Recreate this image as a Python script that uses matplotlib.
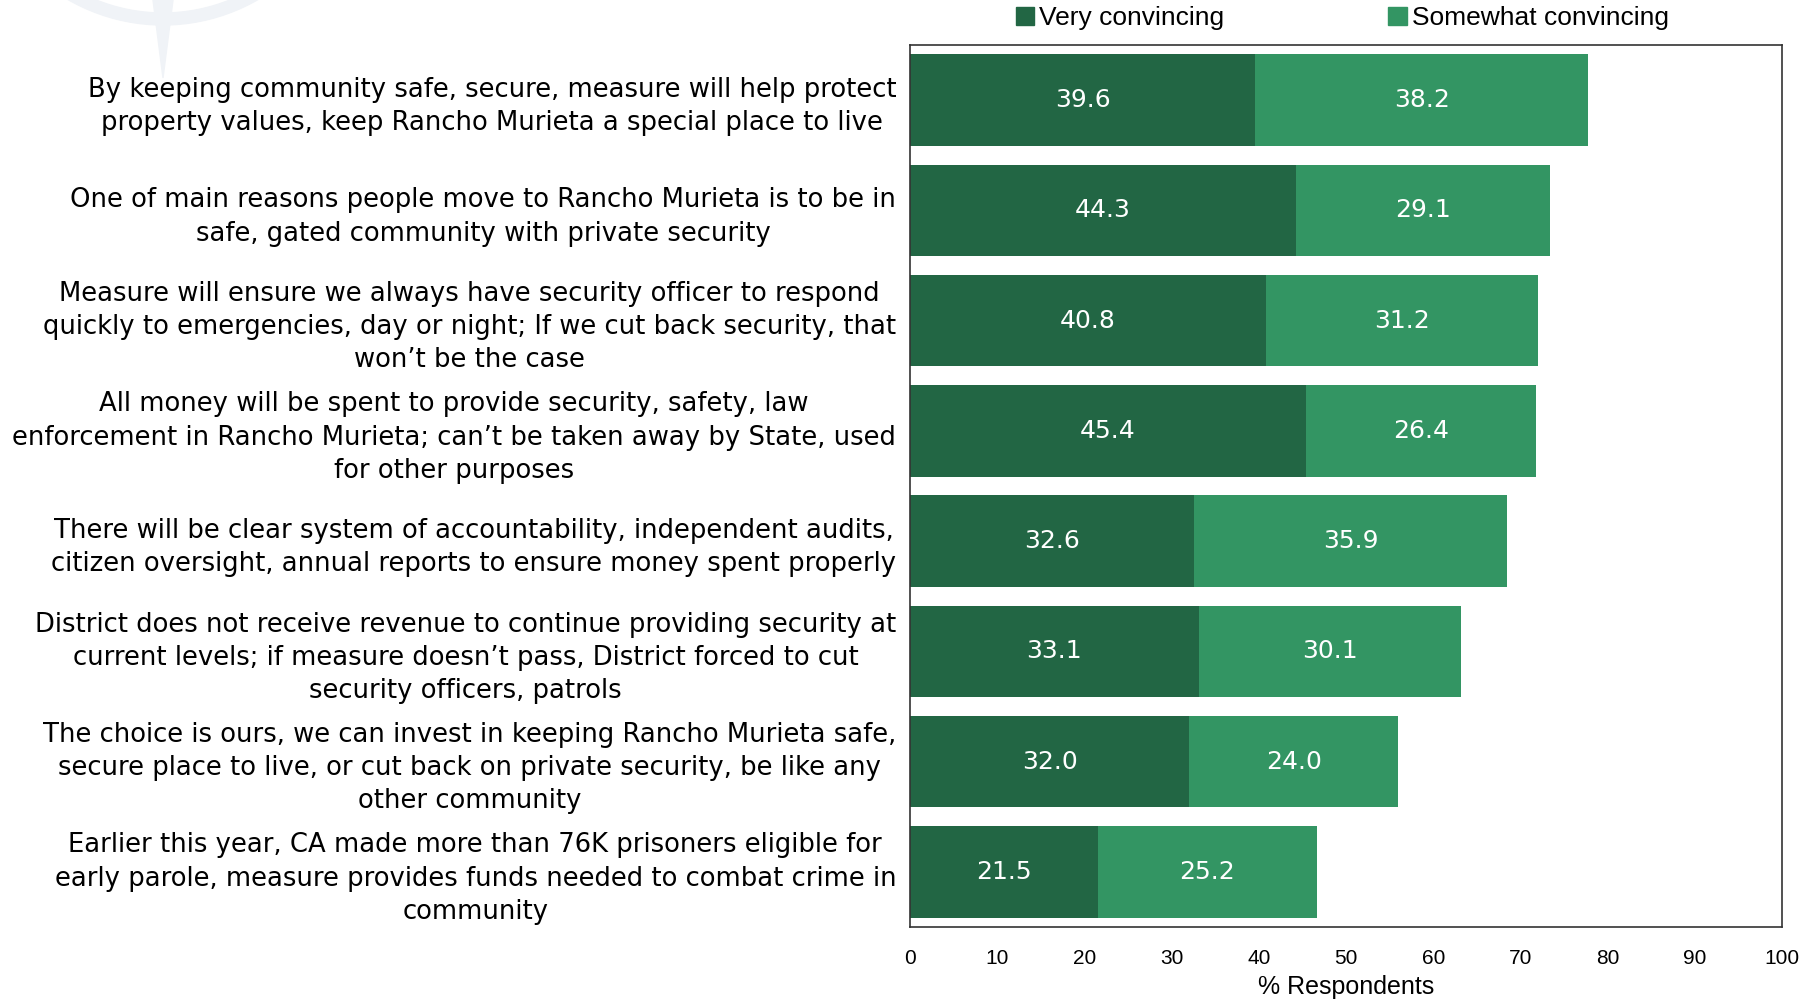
import matplotlib
matplotlib.use('Agg')
import matplotlib.pyplot as plt
from matplotlib import font_manager
from matplotlib.patches import Wedge, Polygon, Patch
import numpy as np

# datos
etiquetas = [
    'By keeping community safe, secure, measure will help protect\nproperty values, keep Rancho Murieta a special place to live',
    'One of main reasons people move to Rancho Murieta is to be in\nsafe, gated community with private security',
    'Measure will ensure we always have security officer to respond\nquickly to emergencies, day or night; If we cut back security, that\nwon\u2019t be the case',
    'All money will be spent to provide security, safety, law\nenforcement in Rancho Murieta; can\u2019t be taken away by State, used\nfor other purposes',
    'There will be clear system of accountability, independent audits,\ncitizen oversight, annual reports to ensure money spent properly',
    'District does not receive revenue to continue providing security at\ncurrent levels; if measure doesn\u2019t pass, District forced to cut\nsecurity officers, patrols',
    'The choice is ours, we can invest in keeping Rancho Murieta safe,\nsecure place to live, or cut back on private security, be like any\nother community',
    'Earlier this year, CA made more than 76K prisoners eligible for\nearly parole, measure provides funds needed to combat crime in\ncommunity',
]
muy = [39.6, 44.3, 40.8, 45.4, 32.6, 33.1, 32.0, 21.5]
algo = [38.2, 29.1, 31.2, 26.4, 35.9, 30.1, 24.0, 25.2]
series = ['Very convincing', 'Somewhat convincing']
xticks = [0, 10, 20, 30, 40, 50, 60, 70, 80, 90, 100]

c_muy = '#226644'
c_algo = '#339563'

# fuente angosta si existe
nombres = set(f.name for f in font_manager.fontManager.ttflist)
if 'Liberation Sans Narrow' in nombres:
    narrow = 'Liberation Sans Narrow'
    tam = 16
else:
    narrow = 'Liberation Sans'
    tam = 15

fig = plt.figure(figsize=(18.15, 10.01), dpi=100)

# marca de agua (logo tenue arriba a la izquierda)
fig.patches.append(Wedge((163, 1001 + 165), 190, 180, 360, width=12,
                         transform=None, color='#f0f3f7', zorder=0))
fig.patches.append(Polygon([(153, 1001), (163, 1001 - 78), (173, 1001)],
                           closed=True, transform=None, color='#f0f3f7', zorder=0))

ax = fig.add_axes([0.5014, 0.0739, 0.4804, 0.8811])
y = np.arange(len(etiquetas))
ax.barh(y, muy, height=0.83, color=c_muy, label=series[0])
ax.barh(y, algo, left=muy, height=0.83, color=c_algo, label=series[1])

for i in range(len(y)):
    ax.text(muy[i] / 2, y[i], '%.1f' % muy[i], color='white', ha='center',
            va='center', fontsize=18)
    ax.text(muy[i] + algo[i] / 2, y[i], '%.1f' % algo[i], color='white',
            ha='center', va='center', fontsize=18)

ax.set_ylim(7.5, -0.5)
ax.set_xlim(0, 100)
ax.set_yticks(y)
ax.set_yticklabels(etiquetas, fontsize=18.6, linespacing=1.36,
                   multialignment='center')
ax.set_xticks(xticks)
ax.set_xticklabels([str(t) for t in xticks], family=narrow, fontsize=tam)
ax.tick_params(axis='both', length=0)
ax.tick_params(axis='y', pad=10)
ax.tick_params(axis='x', pad=16)
ax.set_xlabel('% Respondents', family=narrow, fontsize=tam + 3, labelpad=5)
for s in ax.spines.values():
    s.set_color('#333333')
    s.set_linewidth(1.2)

handles = [Patch(color=c_muy), Patch(color=c_algo)]
fig.legend(handles, series, loc='center', bbox_to_anchor=(0.7395, 0.982),
           ncol=2, frameon=False, prop={'family': narrow, 'size': tam + 4},
           handlelength=0.7, handleheight=0.7, handletextpad=0.2,
           columnspacing=6.2, borderaxespad=0)

fig.savefig('out.png', dpi=100)
